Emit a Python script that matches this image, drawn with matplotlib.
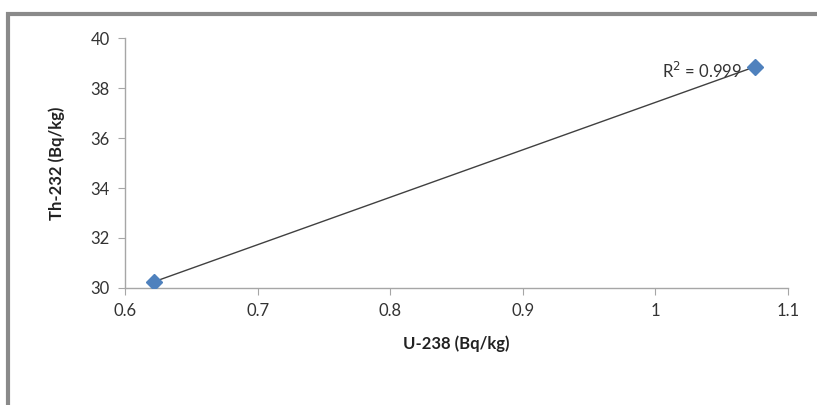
import numpy as np
import matplotlib
matplotlib.use("Agg")
import matplotlib.pyplot as plt
from matplotlib.patches import Rectangle

# data
u238 = [0.622, 1.075]
th232 = [30.25, 38.85]
r2_text = "R$^2$ = 0.999"

plt.rcParams['font.family'] = ['Lato', 'DejaVu Sans']

fig = plt.figure(figsize=(8.17, 4.05), dpi=100)
ax = fig.add_axes([0.153, 0.289, 0.8115, 0.617])

# linear trendline
coef = np.polyfit(u238, th232, 1)
xs = np.array([min(u238), max(u238)])
ax.plot(xs, np.polyval(coef, xs), color='#404040', lw=1.0, zorder=2)
ax.plot(u238, th232, 'D', color='#4F81BD', markersize=8, zorder=3)

ax.set_xlim(0.6, 1.1)
ax.set_ylim(30, 40)
ax.set_xticks([0.6, 0.7, 0.8, 0.9, 1.0, 1.1])
ax.set_xticklabels(['0.6', '0.7', '0.8', '0.9', '1', '1.1'])
ax.set_yticks([30, 32, 34, 36, 38, 40])

for s in ['top', 'right']:
    ax.spines[s].set_visible(False)
for s in ['left', 'bottom']:
    ax.spines[s].set_color('#a6a6a6')
    ax.spines[s].set_linewidth(1.0)
ax.tick_params(direction='out', length=5, color='#a6a6a6', labelsize=12,
               labelcolor='#333333', pad=6)

ax.set_xlabel('U-238 (Bq/kg)', fontsize=12, fontweight='bold', labelpad=12, color='#222222')
ax.set_ylabel('Th-232 (Bq/kg)', fontsize=12, fontweight='bold', labelpad=18, color='#222222')

ax.text(0.87, 0.87, r2_text, transform=ax.transAxes, fontsize=12,
        color='#333333', ha='center', va='center')

# outer gray frame (cut off on right and bottom)
fig.patches.append(Rectangle((7.5 / 817, -0.05), 1.1, 1 - 13.5 / 405 + 0.05,
                             transform=fig.transFigure, fill=False,
                             edgecolor='#8a8a8a', linewidth=3))

fig.savefig('out.png', dpi=100)
